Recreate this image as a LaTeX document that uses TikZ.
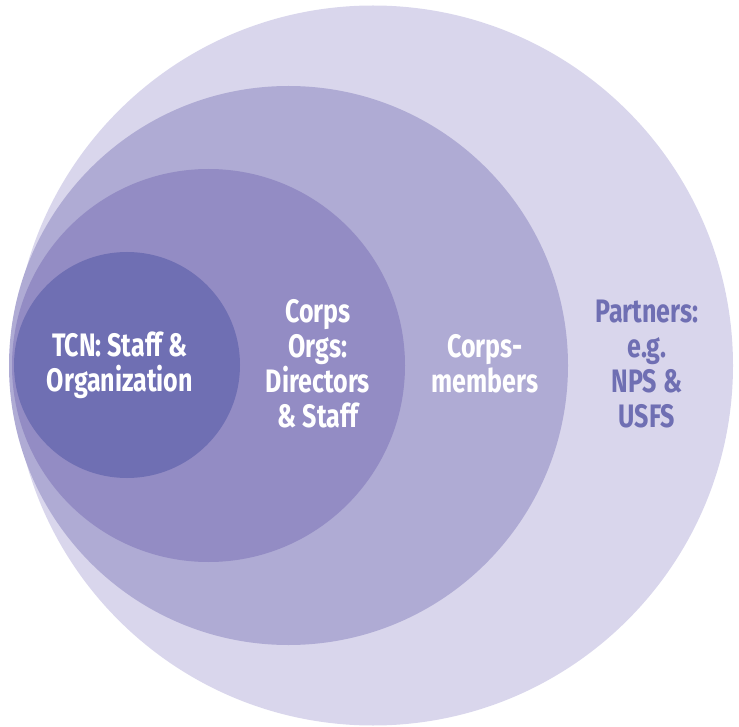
\documentclass[tikz,border=0pt]{standalone}
\usepackage{fontspec}
\usepackage{tikz}
\newfontfamily\ringfont[FakeStretch=0.77]{Fira Sans}
\definecolor{partnerfill}{HTML}{D9D6EC}
\definecolor{memberfill}{HTML}{AFABD4}
\definecolor{orgfill}{HTML}{938CC4}
\definecolor{tcnfill}{HTML}{6F6FB3}
\newcommand{\ringtext}[0]{\ringfont\bfseries\fontsize{32.5}{35}\selectfont}

\begin{document}
\begin{tikzpicture}[x=1pt,y=-1pt]
\tikzstyle{ring}=[circle,draw=none,inner sep=0pt]
\tikzstyle{label}=[align=center,inner sep=0pt,font=\ringtext,text=white]
\useasboundingbox (0,0) rectangle (739,727);
% rings, outermost first
\node[ring,fill=partnerfill,minimum size=720pt] (partners) at (373,365.5) {};
\node[ring,fill=memberfill,minimum size=559pt] (members) at (288.5,365.5) {};
\node[ring,fill=orgfill,minimum size=393pt] (orgs) at (208.5,365.5) {};
\node[ring,fill=tcnfill,minimum size=226pt] (tcn) at (127,365) {};
% texts
\node[label] (tcnlabel) at (120,365) {TCN: Staff \&\\Organization};
\node[label] (orgslabel) at (318,364) {Corps\\Orgs:\\Directors\\\& Staff};
\node[label] (memberslabel) at (485,364) {Corps-\\members};
\node[label,text=tcnfill] (partnerslabel) at (647,364) {Partners:\\e.g.\\NPS \&\\USFS};
\end{tikzpicture}
\end{document}
